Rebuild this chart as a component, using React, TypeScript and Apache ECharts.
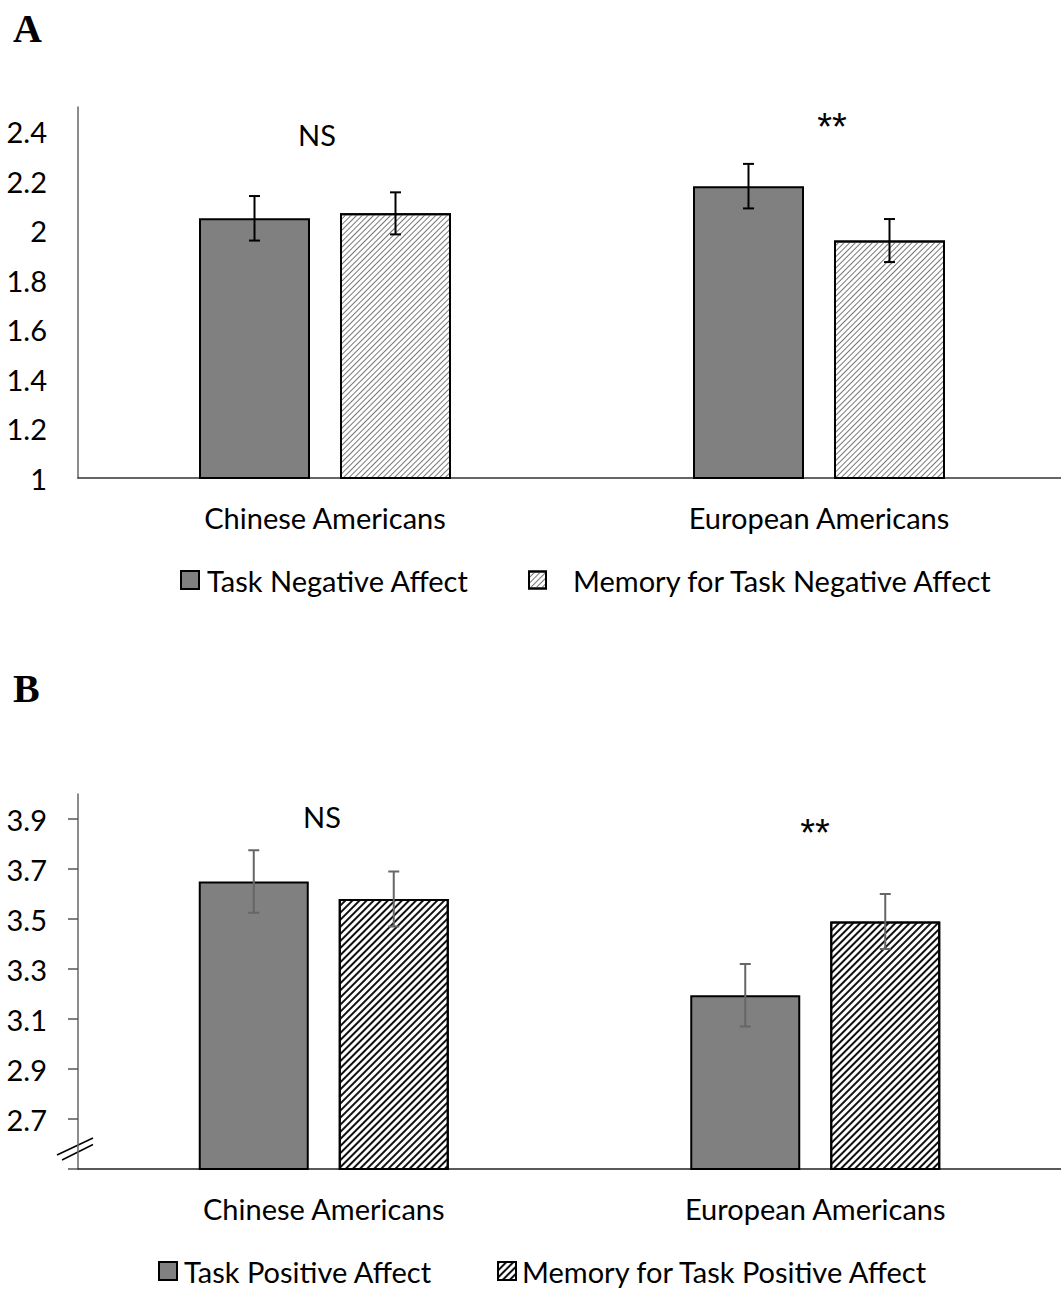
import React, { useEffect, useRef } from "react";
import * as echarts from "echarts";

const categories = ["Chinese Americans", "European Americans"];

// Panel A: negative affect
const negTask = [2.05, 2.18];
const negTaskErr = [0.09, 0.09];
const negMemory = [2.07, 1.96];
const negMemoryErr = [0.085, 0.087];
const ticksA = [1, 1.2, 1.4, 1.6, 1.8, 2, 2.2, 2.4];

// Panel B: positive affect
const posTask = [3.65, 3.195];
const posTaskErr = [0.125, 0.125];
const posMemory = [3.58, 3.49];
const posMemoryErr = [0.11, 0.11];
const ticksB = [2.7, 2.9, 3.1, 3.3, 3.5, 3.7, 3.9];
const tickMarksB = [2.5, 2.7, 2.9, 3.1, 3.3, 3.5, 3.7, 3.9];

const FONT = "Lato";
const FS = 29;

function errorSeries(
  xAxisIndex: number,
  yAxisIndex: number,
  values: number[],
  errs: number[],
  offset: number,
  color: string
) {
  return {
    type: "custom",
    xAxisIndex,
    yAxisIndex,
    silent: true,
    z: 10,
    data: values.map((v, i) => [i, v - errs[i], v + errs[i]]),
    encode: { x: 0, y: [1, 2] },
    renderItem: (params: any, api: any) => {
      const lo = api.coord([api.value(0), api.value(1)]);
      const hi = api.coord([api.value(0), api.value(2)]);
      const x = lo[0] + offset;
      const st = { stroke: color, lineWidth: 2 };
      return {
        type: "group",
        children: [
          { type: "line", shape: { x1: x, y1: hi[1], x2: x, y2: lo[1] }, style: st },
          { type: "line", shape: { x1: x - 5.5, y1: hi[1], x2: x + 5.5, y2: hi[1] }, style: st },
          { type: "line", shape: { x1: x - 5.5, y1: lo[1], x2: x + 5.5, y2: lo[1] }, style: st },
        ],
      };
    },
  };
}

export default function App() {
  const ref = useRef<HTMLDivElement>(null);
  useEffect(() => {
    document.body.style.margin = "0";
    const chart = echarts.init(ref.current!, null, { renderer: "svg" });
    const labelStyle = { fontFamily: FONT, fontSize: FS, color: "#000" };
    const decalA = {
      symbol: "rect",
      symbolSize: 1,
      color: "#777",
      dashArrayX: [1, 0],
      dashArrayY: [1, 2.5],
      rotation: -Math.PI / 4,
    };
    const decalB = {
      symbol: "rect",
      symbolSize: 1,
      color: "#111",
      dashArrayX: [1, 0],
      dashArrayY: [1.4, 2.4],
      rotation: -Math.PI / 4,
    };
    const bwA = 111;
    const gapA = 30;
    const bwB = 110;
    const gapB = 30;
    const legendText = { ...labelStyle, lineHeight: 30 };
    const starFont = '38px "Liberation Sans"';
    const option: any = {
      animation: false,
      backgroundColor: "#fff",
      grid: [
        { left: 78, top: 107, width: 988, height: 371, outerBoundsMode: "none" },
        { left: 78, top: 794, width: 983, height: 375, outerBoundsMode: "none" },
      ],
      xAxis: [
        {
          type: "category",
          gridIndex: 0,
          data: categories,
          axisLine: { lineStyle: { color: "#333", width: 1.5 } },
          axisTick: { show: false },
          axisLabel: { ...labelStyle, margin: 25 },
        },
        {
          type: "category",
          gridIndex: 1,
          data: categories,
          axisLine: { lineStyle: { color: "#222", width: 1.5 } },
          axisTick: { show: false },
          axisLabel: { ...labelStyle, margin: 25 },
        },
      ],
      yAxis: [
        {
          type: "value",
          gridIndex: 0,
          min: 1,
          max: 2.5,
          splitLine: { show: false },
          axisLine: { show: true, lineStyle: { color: "#666", width: 1.5 } },
          axisTick: { show: false },
          axisLabel: { ...labelStyle, margin: 31, customValues: ticksA },
        },
        {
          type: "value",
          gridIndex: 1,
          min: 2.5,
          max: 4.0,
          splitLine: { show: false },
          axisLine: { show: true, lineStyle: { color: "#666", width: 1.5 } },
          axisTick: {
            show: true,
            length: 10,
            customValues: tickMarksB,
            lineStyle: { color: "#555", width: 1.5 },
          },
          axisLabel: { ...labelStyle, margin: 31, customValues: ticksB },
        },
      ],
      legend: [
        {
          data: ["Task Negative Affect"],
          left: 180,
          top: 565,
          padding: 0,
          itemWidth: 18,
          itemHeight: 18,
          icon: "rect",
          textStyle: { ...legendText, padding: [0, 0, 0, 3] },
        },
        {
          data: ["Memory for Task Negative Affect"],
          left: 528,
          top: 565,
          padding: 0,
          itemWidth: 17,
          itemHeight: 17,
          icon: "rect",
          textStyle: { ...legendText, padding: [0, 0, 0, 22] },
        },
        {
          data: ["Task Positive Affect"],
          left: 158,
          top: 1256,
          padding: 0,
          itemWidth: 18,
          itemHeight: 18,
          icon: "rect",
          textStyle: { ...legendText, padding: [0, 0, 0, 2] },
        },
        {
          data: ["Memory for Task Positive Affect"],
          left: 497,
          top: 1256,
          padding: 0,
          itemWidth: 18,
          itemHeight: 18,
          icon: "rect",
          textStyle: { ...legendText, padding: [0, 0, 0, 1] },
        },
      ],
      series: [
        {
          name: "Task Negative Affect",
          type: "bar",
          xAxisIndex: 0,
          yAxisIndex: 0,
          data: negTask,
          barWidth: bwA,
          barGap: (gapA / bwA) * 100 + "%",
          itemStyle: { color: "#808080", borderColor: "#000", borderWidth: 2 },
        },
        {
          name: "Memory for Task Negative Affect",
          type: "bar",
          xAxisIndex: 0,
          yAxisIndex: 0,
          data: negMemory,
          barWidth: bwA,
          barGap: (gapA / bwA) * 100 + "%",
          itemStyle: { color: "#fff", borderColor: "#000", borderWidth: 2, decal: decalA },
        },
        {
          name: "Task Positive Affect",
          type: "bar",
          xAxisIndex: 1,
          yAxisIndex: 1,
          data: posTask,
          barWidth: bwB,
          barGap: (gapB / bwB) * 100 + "%",
          itemStyle: { color: "#808080", borderColor: "#000", borderWidth: 2 },
        },
        {
          name: "Memory for Task Positive Affect",
          type: "bar",
          xAxisIndex: 1,
          yAxisIndex: 1,
          data: posMemory,
          barWidth: bwB,
          barGap: (gapB / bwB) * 100 + "%",
          itemStyle: { color: "#fff", borderColor: "#000", borderWidth: 2, decal: decalB },
        },
        errorSeries(0, 0, negTask, negTaskErr, -(bwA + gapA) / 2, "#000"),
        errorSeries(0, 0, negMemory, negMemoryErr, (bwA + gapA) / 2, "#000"),
        errorSeries(1, 1, posTask, posTaskErr, -(bwB + gapB) / 2, "#666"),
        errorSeries(1, 1, posMemory, posMemoryErr, (bwB + gapB) / 2, "#666"),
      ],
      graphic: [
        { type: "text", left: 13, top: 8, style: { text: "A", font: 'bold 40px "Liberation Serif"', fill: "#000" } },
        { type: "text", left: 13, top: 668, style: { text: "B", font: 'bold 40px "Liberation Serif"', fill: "#000" } },
        { type: "text", x: 317, y: 134, style: { text: "NS", font: `${FS}px ${FONT}`, fill: "#000", align: "center", verticalAlign: "middle" } },
        { type: "text", x: 832, y: 127, style: { text: "**", font: starFont, fill: "#000", align: "center", verticalAlign: "middle" } },
        { type: "text", x: 322, y: 816, style: { text: "NS", font: `${FS}px ${FONT}`, fill: "#000", align: "center", verticalAlign: "middle" } },
        { type: "text", x: 815, y: 833, style: { text: "**", font: starFont, fill: "#000", align: "center", verticalAlign: "middle" } },
        { type: "line", shape: { x1: 57, y1: 1155, x2: 93, y2: 1138 }, style: { stroke: "#000", lineWidth: 1.5 } },
        { type: "line", shape: { x1: 62, y1: 1160, x2: 93, y2: 1144.5 }, style: { stroke: "#000", lineWidth: 1.5 } },
      ],
    };
    chart.setOption(option);
    return () => chart.dispose();
  }, []);
  return (
    <div
      ref={ref}
      style={{ position: "absolute", left: 0, top: 0, width: 1061, height: 1290 }}
    />
  );
}
